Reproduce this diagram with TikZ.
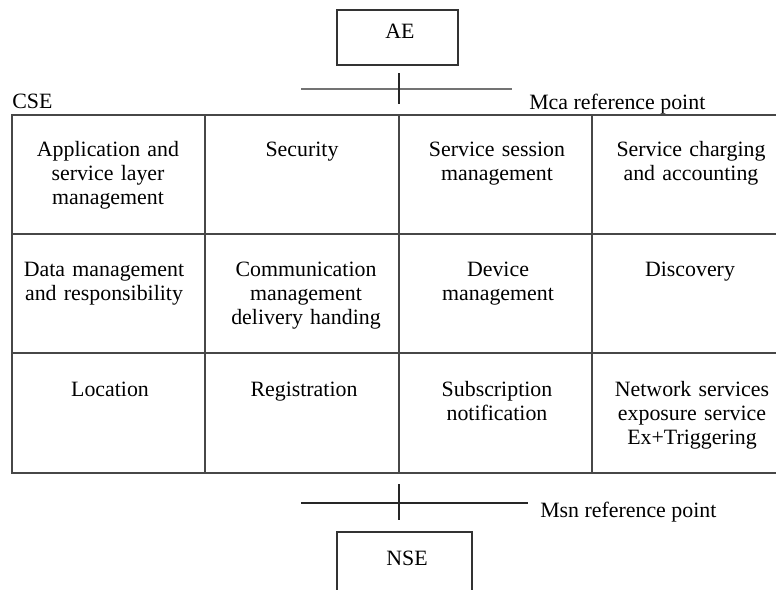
\documentclass[tikz,border=0pt]{standalone}
\usepackage{fontspec}
\setmainfont{Liberation Serif}
\begin{document}
\begin{tikzpicture}[x=0.75pt,y=-0.75pt,
  ln/.style={draw=black!72,line width=0.95pt},
  cell/.style={anchor=base,text width=180*0.75pt,align=center,inner sep=0pt,
    font=\fontsize{16.4}{18}\selectfont},
  lbl/.style={anchor=base west,inner sep=0pt,font=\fontsize{16.4}{18}\selectfont},
  box/.style={draw=black!80,line width=0.8pt}]
\useasboundingbox (0,0) rectangle (776,590);
% AE
\draw[box] (337,10) rectangle (458,65);
\node[lbl,anchor=base] (ae) at (400,38) {AE};
% Mca reference point
\coordinate (mcaL) at (301,89);
\coordinate (mcaR) at (512,89);
\coordinate (mcaT) at (399,73);
\coordinate (mcaB) at (399,104);
\draw[ln,draw=black!55] (mcaL) -- (mcaR);
\draw[ln,draw=black!85] (mcaT) -- (mcaB);
\node[lbl] (cse) at (12,108) {CSE};
\node[lbl] (mca) at (529,109) {Mca reference point};
% table
\draw[ln] (776,115) -- (12,115) -- (12,473) -- (776,473);
\draw[ln] (12,234) -- (776,234);
\draw[ln] (12,353) -- (776,353);
\foreach \x in {205,399,592} \draw[ln] (\x,115) -- (\x,473);
% row 1
\node[cell] (c11) at (108,156) {Application and\\service layer\\management};
\node[cell] (c12) at (302,156) {Security};
\node[cell] (c13) at (497,156) {Service session\\management};
\node[cell] (c14) at (691,156) {Service charging\\and accounting};
% row 2
\node[cell] (c21) at (104,276) {Data management\\and responsibility};
\node[cell] (c22) at (306,276) {Communication\\management\\delivery handing};
\node[cell] (c23) at (498,276) {Device\\management};
\node[cell] (c24) at (690,276) {Discovery};
% row 3
\node[cell] (c31) at (110,396) {Location};
\node[cell] (c32) at (304,396) {Registration};
\node[cell] (c33) at (497,396) {Subscription\\notification};
\node[cell] (c34) at (692,396) {Network services\\exposure service\\Ex+Triggering};
% Msn reference point
\coordinate (msnL) at (301,503);
\coordinate (msnR) at (528,503);
\coordinate (msnT) at (399,484);
\coordinate (msnB) at (399,520);
\draw[ln,draw=black!85] (msnL) -- (msnR);
\draw[ln,draw=black!85] (msnT) -- (msnB);
\node[lbl] (msn) at (540,517) {Msn reference point};
% NSE
\draw[box] (337,592) -- (337,532) -- (472,532) -- (472,592);
\node[lbl,anchor=base] (nse) at (407,565) {NSE};
\end{tikzpicture}
\end{document}
